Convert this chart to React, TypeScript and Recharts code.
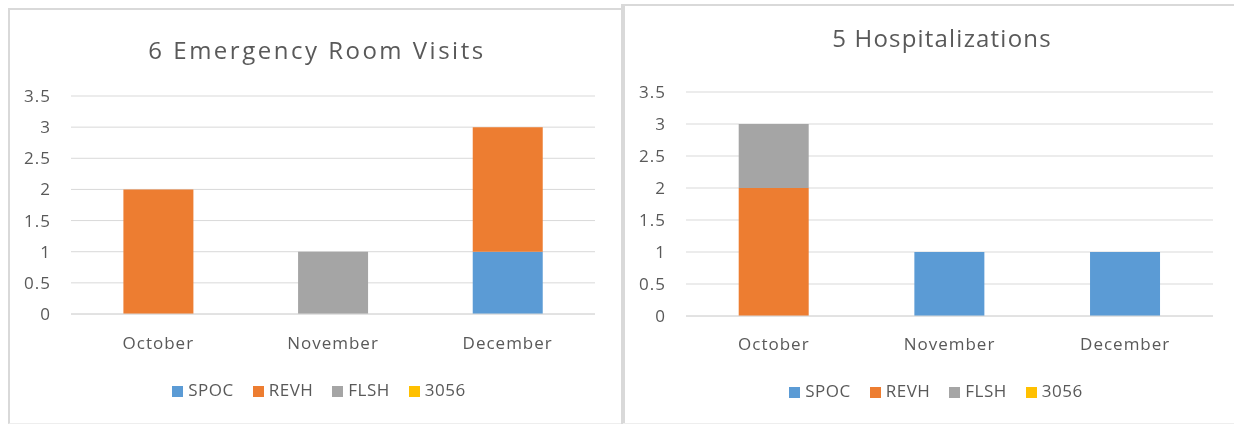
import React from 'react';
import { BarChart, Bar, XAxis, YAxis, CartesianGrid, Legend } from 'recharts';

const months = ['October', 'November', 'December'];
const seriesNames = ['SPOC', 'REVH', 'FLSH', '3056'];
const seriesColors = ['#5B9BD5', '#ED7D31', '#A5A5A5', '#FFC000'];
const yTicks = [0, 0.5, 1, 1.5, 2, 2.5, 3, 3.5];

const erTitle = '6 Emergency Room Visits';
const erSPOC = [0, 0, 1];
const erREVH = [2, 0, 2];
const erFLSH = [0, 1, 0];
const er3056 = [0, 0, 0];

const hospTitle = '5 Hospitalizations';
const hospSPOC = [0, 1, 1];
const hospREVH = [2, 0, 0];
const hospFLSH = [1, 0, 0];
const hosp3056 = [0, 0, 0];

const build = (a: number[], b: number[], c: number[], d: number[]) =>
  months.map((m, i) => ({ month: m, SPOC: a[i], REVH: b[i], FLSH: c[i], '3056': d[i] }));

const erData = build(erSPOC, erREVH, erFLSH, er3056);
const hospData = build(hospSPOC, hospREVH, hospFLSH, hosp3056);

const FONT = "'Open Sans', sans-serif";
const TXT = '#595959';
const GRID = '#d9d9d9';

type PanelProps = {
  data: any[];
  title: string;
  width: number;
  height: number;
  margin: { top: number; right: number; left: number; bottom: number };
  yWidth: number;
  xTickMargin: number;
  legendTop: number;
  legendLeft: number;
  legendWidth: number;
  titleX: number;
  titleY: number;
  titleSpacing: number;
};

const Panel = (p: PanelProps) => (
  <div style={{ position: 'relative', width: p.width, height: p.height }}>
    <BarChart
      width={p.width}
      height={p.height}
      data={p.data}
      margin={p.margin}
      barCategoryGap="30%"
    >
      <CartesianGrid vertical={false} stroke={GRID} />
      <XAxis
        dataKey="month"
        axisLine={{ stroke: GRID }}
        tickLine={false}
        tickSize={0}
        tickMargin={p.xTickMargin}
        height={40}
        tick={{ fill: TXT, fontSize: 17, fontFamily: FONT, letterSpacing: 1 }}
      />
      <YAxis
        domain={[0, 3.5]}
        ticks={yTicks}
        width={p.yWidth}
        axisLine={false}
        tickLine={false}
        tickSize={0}
        tickMargin={20}
        interval={0}
        tick={{ fill: TXT, fontSize: 17, fontFamily: FONT, letterSpacing: 1 }}
      />
      <Legend
        iconType="square"
        iconSize={11}
        verticalAlign="middle"
        align="center"
        itemSorter={(item: any) => seriesNames.indexOf(item.value)}
        wrapperStyle={{
          top: p.legendTop,
          left: p.legendLeft,
          width: p.legendWidth,
          fontSize: 17,
          fontFamily: FONT,
          letterSpacing: 0.5,
        }}
        formatter={(value: string) => (
          <span style={{ color: TXT, marginRight: 9, paddingLeft: 1 }}>{value}</span>
        )}
      />
      {seriesNames.map((s, i) => (
        <Bar key={s} dataKey={s} stackId="a" fill={seriesColors[i]} isAnimationActive={false} />
      ))}
    </BarChart>
    <svg
      width={p.width}
      height={p.height}
      style={{ position: 'absolute', left: 0, top: 0, pointerEvents: 'none' }}
    >
      <text
        x={p.titleX}
        y={p.titleY}
        textAnchor="middle"
        fill={TXT}
        fontSize={24}
        fontFamily={FONT}
        letterSpacing={p.titleSpacing}
      >
        {p.title}
      </text>
    </svg>
  </div>
);

export default function App() {
  return (
    <div style={{ position: 'relative', width: 1234, height: 424, fontFamily: FONT }}>
      <div
        style={{
          position: 'fixed',
          left: 8,
          top: 8,
          width: 613,
          height: 416,
          borderTop: `2px solid ${GRID}`,
          borderLeft: `2px solid ${GRID}`,
          borderBottom: `1px solid #eeeeee`,
          boxSizing: 'border-box',
        }}
      />
      <div style={{ position: 'fixed', left: 621, top: 4, width: 4, height: 420, background: GRID }} />
      <div
        style={{
          position: 'fixed',
          left: 623,
          top: 4,
          width: 611,
          height: 420,
          borderTop: `2px solid ${GRID}`,
          borderBottom: `1px solid #eeeeee`,
          boxSizing: 'border-box',
        }}
      />
      <div style={{ position: 'fixed', left: 8, top: 8 }}>
        <Panel
          data={erData}
          title={erTitle}
          width={613}
          height={416}
          margin={{ top: 88, right: 26, left: 0, bottom: 70 }}
          yWidth={63}
          xTickMargin={23}
          legendTop={370}
          legendLeft={29}
          legendWidth={583}
          titleX={309}
          titleY={51}
          titleSpacing={2.5}
        />
      </div>
      <div style={{ position: 'fixed', left: 625, top: 4 }}>
        <Panel
          data={hospData}
          title={hospTitle}
          width={609}
          height={420}
          margin={{ top: 88, right: 21, left: 0, bottom: 68 }}
          yWidth={61}
          xTickMargin={22}
          legendTop={375}
          legendLeft={29}
          legendWidth={583}
          titleX={317}
          titleY={43}
          titleSpacing={1.2}
        />
      </div>
    </div>
  );
}
